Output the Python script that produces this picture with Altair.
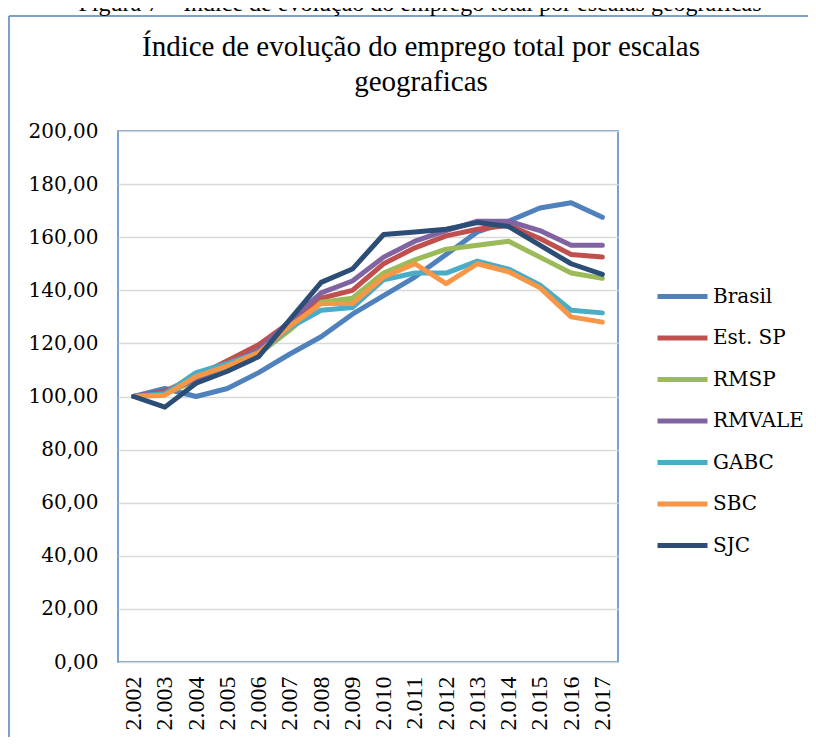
import altair as alt
import pandas as pd

years = ["2.002", "2.003", "2.004", "2.005", "2.006", "2.007", "2.008", "2.009",
         "2.010", "2.011", "2.012", "2.013", "2.014", "2.015", "2.016", "2.017"]
series_names = ["Brasil", "Est. SP", "RMSP", "RMVALE", "GABC", "SBC", "SJC"]

brasil = [100, 103, 100, 103, 109, 116, 122.5, 131, 138, 145, 153.5, 162, 166, 171, 173, 167.5]
est_sp = [100, 102, 107.5, 113.5, 119.5, 128, 137, 140, 150, 156, 160.5, 163, 164.5, 159.5, 153.5, 152.5]
rmsp = [100, 101, 106, 111, 116, 125, 135.5, 137, 146.5, 151.5, 155.5, 157, 158.5, 152.5, 146.5, 144.5]
rmvale = [100, 101.5, 106.5, 112, 117.5, 128.5, 139, 143.5, 152.5, 158.5, 162.5, 166, 166, 162.5, 157, 157]
gabc = [100, 101, 109, 112.5, 116.5, 126, 132.5, 133.5, 144, 146.5, 146.5, 151, 148, 142, 132.5, 131.5]
sbc = [100, 100.5, 107.5, 111.5, 116.5, 126.5, 135, 135, 145, 150, 142.5, 150, 147, 141, 130, 128]
sjc = [100, 96, 105, 109.5, 115, 129, 143, 148, 161, 162, 163, 165.5, 164, 157, 150, 146]

colors = ["#4F81BD", "#C0504D", "#9BBB59", "#8064A2", "#4BACC6", "#F79646", "#2C4D75"]

caption_text = "Figura 7 – Índice de evolução do emprego total por escalas geograficas"
title_lines = ["Índice de evolução do emprego total por escalas", "geograficas"]

rows = []
for name, vals in zip(series_names, [brasil, est_sp, rmsp, rmvale, gabc, sbc, sjc]):
    for ano, v in zip(years, vals):
        rows.append({"ano": ano, "serie": name, "valor": v})
df = pd.DataFrame(rows)

W, H = 500, 531
FRAME = "#4F81BD"

lines = alt.Chart(df).mark_line(strokeWidth=5, strokeJoin="round", strokeCap="round").encode(
    x=alt.X("ano:O", sort=years, scale=alt.Scale(type="point", padding=0.5),
            axis=alt.Axis(title=None, labelAngle=270, labelFont="Liberation Serif",
                          labelFontSize=24, labelPadding=14, ticks=False, domain=False,
                          grid=False, labelColor="black")),
    y=alt.Y("valor:Q", scale=alt.Scale(domain=[0, 200], nice=False),
            axis=alt.Axis(title=None, values=list(range(0, 201, 20)),
                          labelExpr="replace(format(datum.value, '.2f'), '.', ',')",
                          labelFont="DejaVu Serif", labelFontSize=20, labelPadding=20,
                          ticks=False, domain=False, gridColor="#D9D9D9", gridWidth=1.5,
                          labelColor="black")),
    color=alt.Color("serie:N", sort=series_names,
                    scale=alt.Scale(domain=series_names, range=colors),
                    legend=alt.Legend(title=None, orient="none", legendX=537, legendY=138,
                                      symbolType="stroke", symbolSize=2500, symbolStrokeWidth=5,
                                      labelFont="DejaVu Serif", labelFontSize=20, labelOffset=3,
                                      rowPadding=3.5, padding=0, labelColor="black")),
)

one = pd.DataFrame({"k": [0]})
frame_left = alt.Chart(one).mark_rule(color=FRAME, strokeWidth=1.5).encode(
    x=alt.value(-109), y=alt.value(-115), y2=alt.value(620))
frame_top = alt.Chart(one).mark_rule(color=FRAME, strokeWidth=1.5).encode(
    y=alt.value(-115), x=alt.value(-109), x2=alt.value(700))
caption = alt.Chart(pd.DataFrame({"t": [caption_text]})).mark_text(
    font="Liberation Serif", fontSize=24, align="center", baseline="alphabetic", color="black"
).encode(text="t:N", x=alt.value(302), y=alt.value(-120))

title_df = pd.DataFrame({"t": title_lines, "line": [0, 1]})
title1 = alt.Chart(title_df.iloc[[0]]).mark_text(
    font="Liberation Serif", fontSize=29, align="center", baseline="middle", color="black"
).encode(text="t:N", x=alt.value(303), y=alt.value(-84))
title2 = alt.Chart(title_df.iloc[[1]]).mark_text(
    font="Liberation Serif", fontSize=29, align="center", baseline="middle", color="black"
).encode(text="t:N", x=alt.value(303), y=alt.value(-49))

chart = alt.layer(frame_left, frame_top, caption, title1, title2, lines).properties(
    width=W, height=H,
    autosize=alt.AutoSizeParams(type="none"),
    padding={"left": 110, "top": 123, "right": 190, "bottom": 75},
).configure_view(stroke=FRAME, strokeWidth=1.5)

chart.save("out.html", embed_options={"renderer": "svg", "actions": False})
